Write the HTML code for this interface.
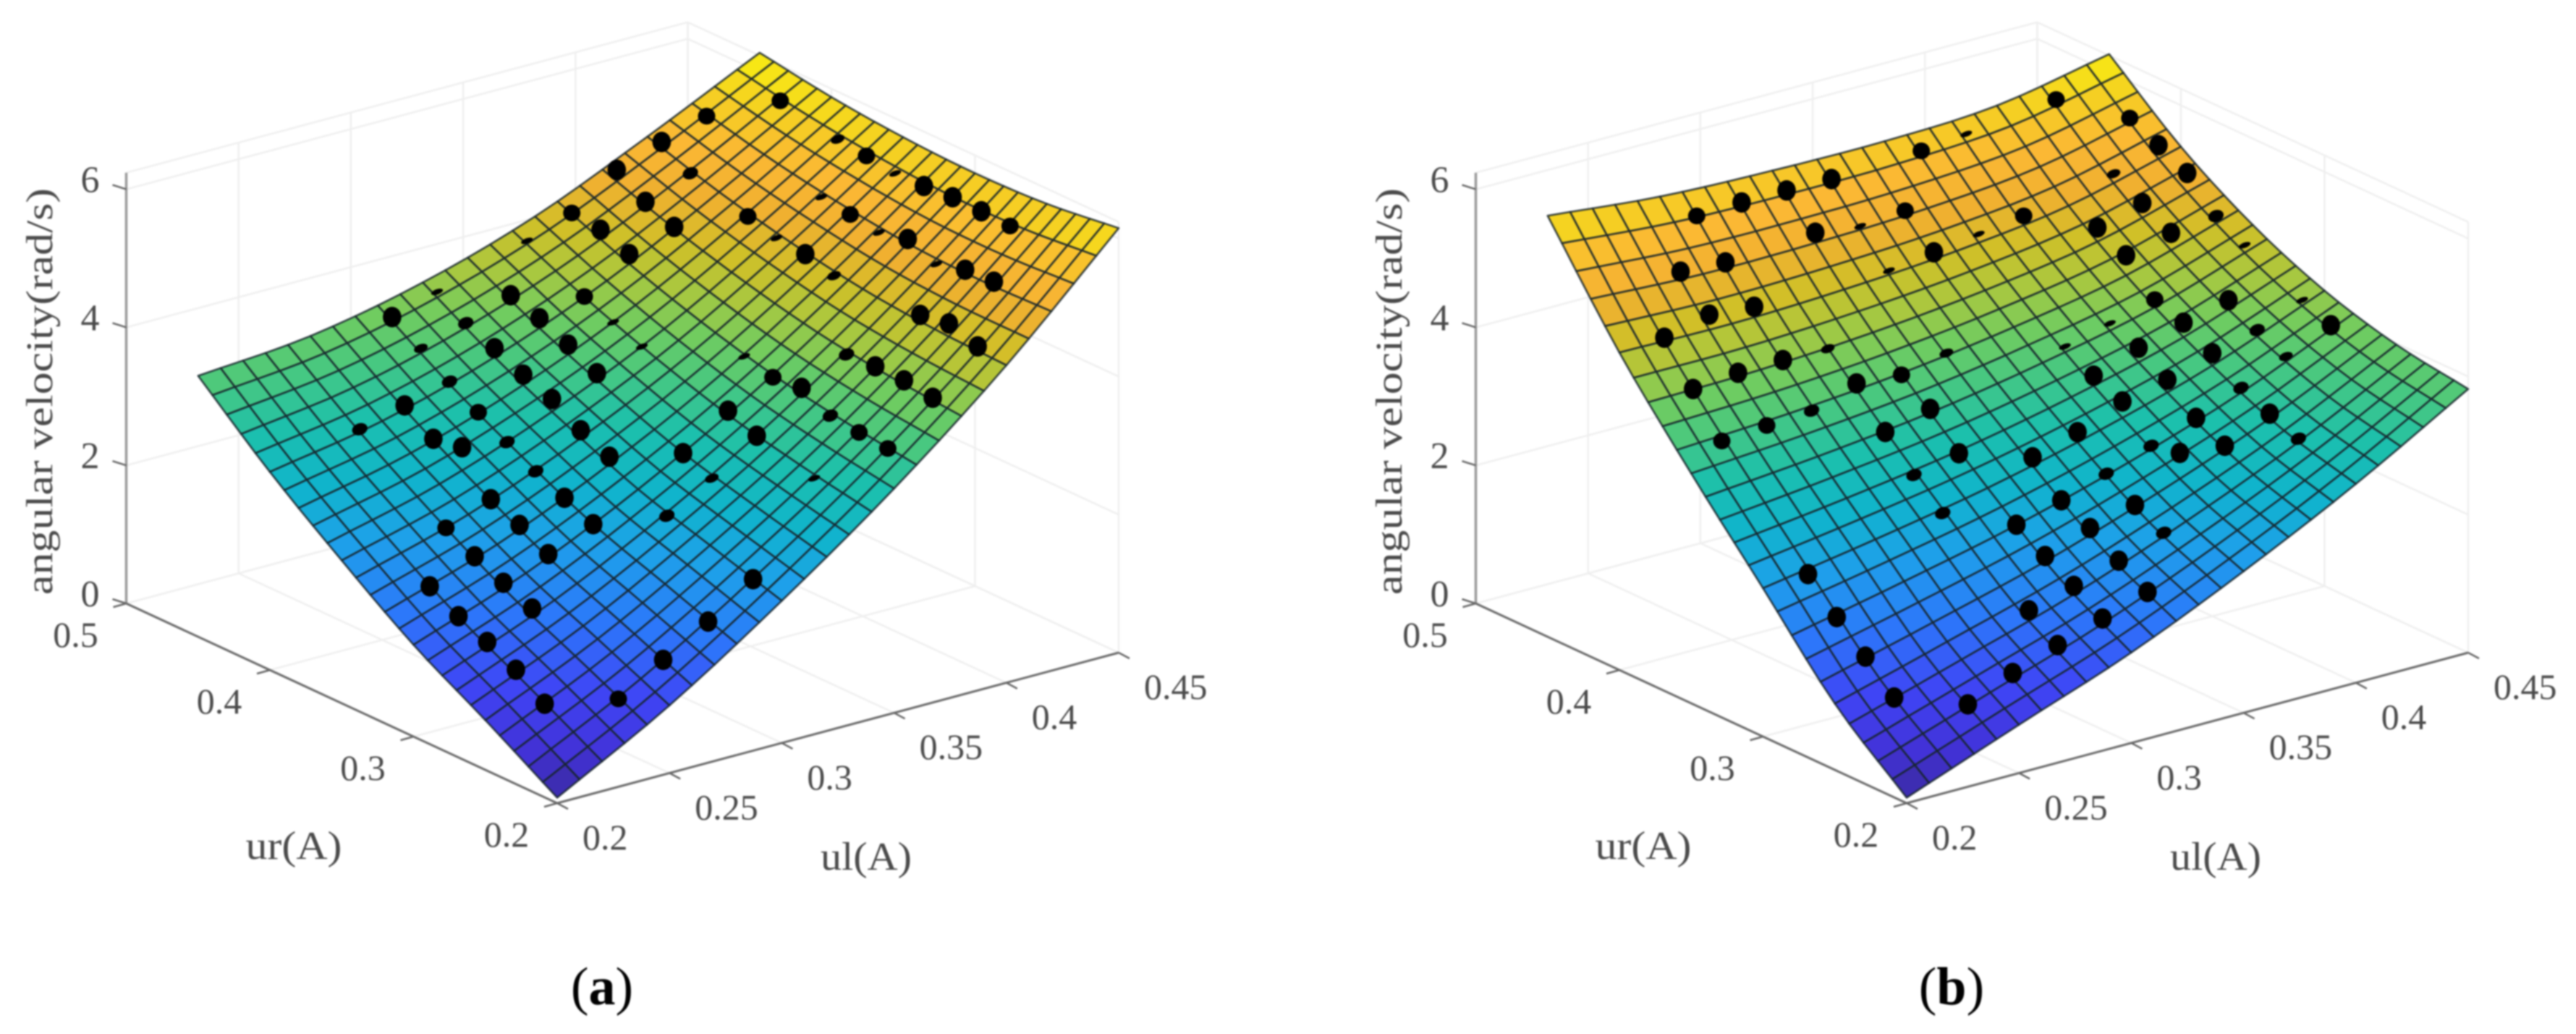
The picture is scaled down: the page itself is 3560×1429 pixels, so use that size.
<!DOCTYPE html>
<html lang="en">
<head>
<meta charset="utf-8">
<title>Angular velocity surface fits</title>
<style>
html,body{margin:0;padding:0;background:#fff;width:3560px;height:1429px;overflow:hidden}
svg{display:block;filter:blur(1.1px)}
text{font-family:"Liberation Serif",serif;fill:#4a4a4a}
</style>
</head>
<body>
<svg id="figure" width="3560" height="1429" viewBox="0 0 3560 1429" xmlns="http://www.w3.org/2000/svg">
  <rect x="0" y="0" width="3560" height="1429" fill="#fff"/>
  <g id="panel-a"></g>
  <g id="panel-b"></g>
  <text x="832" y="1388" text-anchor="middle" font-size="74" style="fill:#000">(<tspan font-weight="bold">a</tspan>)</text>
  <text x="2697" y="1388" text-anchor="middle" font-size="74" style="fill:#000">(<tspan font-weight="bold">b</tspan>)</text>
</svg>
<script>
// Axis ticks
const ulTicks = [0.2, 0.25, 0.3, 0.35, 0.4, 0.45];
const ulTickLabels = ['0.2', '0.25', '0.3', '0.35', '0.4', '0.45'];
const urTicks = [0.2, 0.3, 0.4, 0.5];
const urTickLabels = ['0.2', '0.3', '0.4', '0.5'];
const zTicks = [0, 2, 4, 6];
const zTickLabels = ['0', '2', '4', '6'];

// Fitted surface heights: rows run along ur, columns along ul
const surfaceUl = [0.2, 0.25, 0.3, 0.35, 0.4, 0.45];
const surfaceUr = [0.2, 0.25, 0.3, 0.35, 0.4, 0.45];
const panelASurfaceZ = [
  [0.08, 0.98, 2.06, 3.25, 4.60, 6.15],
  [0.72, 1.46, 2.38, 3.42, 4.64, 6.02],
  [1.33, 1.93, 2.71, 3.64, 4.74, 5.98],
  [2.07, 2.52, 3.16, 3.95, 4.93, 6.02],
  [2.87, 3.17, 3.66, 4.33, 5.18, 6.12],
  [3.78, 3.92, 4.26, 4.78, 5.50, 6.28]
];
const panelBSurfaceZ = [
  [0.08, 0.70, 1.31, 2.05, 2.88, 3.82],
  [0.96, 1.42, 1.90, 2.49, 3.17, 3.98],
  [2.15, 2.42, 2.73, 3.13, 3.63, 4.28],
  [3.33, 3.45, 3.62, 3.88, 4.22, 4.75],
  [4.60, 4.58, 4.64, 4.76, 4.98, 5.40],
  [6.10, 5.94, 5.88, 5.87, 5.95, 6.26]
];

// Measured points, panel (a)
const panelAUl = [
  .22,.22,.22,.22,.22,
  .24,.24,.24,.24,.24,.24,
  .26,.26,.26,.26,.26,.26,.26,
  .28,.28,.28,.28,.28,.28,.28,.28,.28,
  .30,.30,.30,.30,.30,.30,.30,.30,.30,
  .32,.32,.32,.32,.32,.32,
  .34,.34,.34,.34,.34,.34,.34,
  .36,.36,.36,.36,.36,.36,.36,.36,.36,
  .38,.38,.38,.38,.38,.38,.38,
  .40,.40,.40,.40,.40,.40,.40,.40,.40,
  .42,.42,.42,.42,.42,.42,.42,.42,
  .44,.44,.44,.44,.44,.44,.44,.44
];
const panelAUr = [
  .24,.26,.28,.30,.32,
  .22,.28,.30,.32,.34,.40,
  .22,.30,.32,.34,.36,.38,.40,
  .22,.30,.32,.34,.36,.38,.40,.42,.44,
  .22,.28,.32,.34,.36,.38,.40,.42,.44,
  .28,.30,.36,.38,.40,.42,
  .24,.28,.30,.36,.38,.40,.44,
  .22,.24,.26,.28,.30,.32,.40,.42,.44,
  .22,.24,.26,.28,.40,.42,.44,
  .22,.24,.26,.32,.34,.36,.38,.42,.44,
  .24,.26,.28,.30,.32,.34,.36,.44,
  .26,.28,.30,.32,.34,.36,.38,.42
];
const panelAZ = [
  .88,1.18,1.39,1.57,1.81,
  .97,1.70,1.88,2.07,2.29,3.14,
  1.36,2.12,2.35,2.53,3.09,3.02,3.31,
  1.74,2.38,2.57,2.76,2.99,3.23,3.48,3.77,4.03,
  2.18,2.52,2.99,3.18,3.44,3.60,3.79,3.96,4.22,
  2.89,3.06,3.64,3.86,4.05,4.19,
  3.10,3.33,3.50,3.85,4.01,4.19,4.61,
  3.55,3.59,3.64,3.85,3.81,3.92,4.63,4.79,4.84,
  4.11,4.17,4.18,4.16,4.85,5.02,5.29,
  4.68,4.82,4.75,4.74,4.86,4.90,5.02,5.26,5.52,
  5.25,5.23,5.12,5.29,5.19,5.26,5.32,5.72,
  5.69,5.71,5.72,5.69,5.68,5.74,5.79,5.96
];
// Height of each point above the fitted surface (rad/s)
const panelAGap = [
  .3,.3,.3,.3,.3,
  .2,.3,.3,.3,.2,.1,
  .3,.3,.3,.3,.3,.3,.3,
  .3,.3,.3,.1,.1,.2,.1,.05,.3,
  .3,.1,.3,.3,.3,.3,.3,.1,.02,
  .05,.3,.3,.3,.3,.3,
  .02,.3,.3,.02,.02,.2,.02,
  .2,.2,.1,.3,.2,.02,.3,.3,.2,
  .3,.3,.3,.1,.3,.3,.3,
  .3,.3,.3,.05,.3,.02,.2,.1,.3,
  .3,.3,.02,.3,.02,.2,.02,.2,
  .2,.3,.3,.3,.02,.2,.05,.2
];

// Measured points, panel (b)
const panelBUl = [
  .22,.22,.22,.22,.22,.22,.22,
  .24,.24,.24,.24,.24,
  .26,.26,.26,.26,.26,.26,
  .28,.28,.28,.28,.28,.28,.28,.28,
  .30,.30,.30,.30,.30,.30,.30,.30,.30,
  .32,.32,.32,.32,.32,.32,.32,.32,.32,
  .34,.34,.34,.34,.34,.34,
  .36,.36,.36,.36,.36,.36,.36,
  .38,.38,.38,.38,.38,.38,.38,
  .40,.40,.40,.40,.40,.40,.40,.40,
  .42,.42,.42,.42,.42,.42,.42,
  .44,.44,.44,.44,.44,.44,.44
];
const panelBUr = [
  .24,.26,.28,.30,.36,.38,.40,
  .22,.36,.38,.40,.42,
  .22,.36,.38,.40,.42,.44,
  .22,.24,.30,.32,.34,.36,.38,.44,
  .22,.24,.26,.28,.32,.34,.36,.42,.44,
  .22,.24,.26,.28,.30,.36,.40,.42,.44,
  .24,.26,.28,.30,.40,.42,
  .26,.28,.30,.32,.34,.40,.44,
  .26,.28,.30,.32,.34,.40,.44,
  .24,.26,.28,.30,.32,.34,.36,.38,
  .28,.30,.32,.36,.38,.40,.44,
  .28,.30,.34,.36,.38,.40,.42
];
const panelBZ = [
  .97,1.37,1.75,2.18,3.53,4.09,4.64,
  .89,3.58,4.15,4.80,5.23,
  1.17,3.62,4.16,4.74,5.19,5.67,
  1.40,1.71,2.54,2.90,3.33,3.84,4.15,5.69,
  1.61,1.89,2.13,2.39,3.04,3.49,3.79,5.27,5.69,
  1.82,2.08,2.36,2.57,3.00,3.93,4.74,5.19,5.68,
  2.31,2.52,2.78,3.19,4.83,5.24,
  3.10,3.01,3.46,3.64,3.87,4.92,5.74,
  3.03,3.24,3.60,3.87,4.03,5.01,5.81,
  3.15,3.32,3.50,3.81,4.06,4.20,4.65,4.86,
  3.78,3.97,4.21,4.80,5.04,5.27,5.96,
  4.06,4.23,4.64,4.87,5.30,5.51,5.71
];
const panelBGap = [
  .3,.3,.3,.3,.2,.3,.3,
  .3,.2,.3,.3,.3,
  .3,.1,.3,.3,.3,.2,
  .3,.3,.1,.1,.3,.3,.05,.3,
  .3,.3,.3,.3,.3,.3,.2,.3,.3,
  .3,.3,.3,.3,.3,.05,.02,.02,.3,
  .1,.3,.1,.3,.3,.2,
  .3,.1,.3,.3,.02,.02,.2,
  .3,.3,.3,.3,.02,.2,.02,
  .1,.3,.1,.3,.3,.2,.3,.3,
  .05,.1,.3,.3,.3,.05,.2,
  .3,.02,.02,.1,.3,.3,.2
];

// Colormap
const colorZ = [0.08, 0.5, 1.0, 1.6, 2.2, 2.7, 3.2, 3.65, 4.0, 4.35, 4.7, 5.1, 5.5, 5.9, 6.3];
const colorHex = ['#3a2a9e','#4232d8','#3f45f5','#2c78fa','#1ea0ea','#10b4cc','#1cc0ac','#48c880','#70cc60','#a8c840','#d0c028','#f0b030','#fbb834','#f5d022','#f8f010'];

const NS = 'http://www.w3.org/2000/svg';
const Z_TOP = 6.24;
const CELLS = 25;

function project(dx, ul, ur, z) {
  return [
    dx + 770 + 3104 * (ul - 0.2) - 1985 * (ur - 0.2),
    1110 - 832 * (ul - 0.2) - 920 * (ur - 0.2) - 95.4 * z
  ];
}

function hexToRgb(h) {
  return [parseInt(h.slice(1, 3), 16), parseInt(h.slice(3, 5), 16), parseInt(h.slice(5, 7), 16)];
}

function colorFor(z) {
  if (z <= colorZ[0]) return colorHex[0];
  for (let i = 1; i < colorZ.length; i++) {
    if (z <= colorZ[i]) {
      const t = (z - colorZ[i - 1]) / (colorZ[i] - colorZ[i - 1]);
      const a = hexToRgb(colorHex[i - 1]);
      const b = hexToRgb(colorHex[i]);
      const c = a.map((v, k) => Math.round(v + (b[k] - v) * t));
      return 'rgb(' + c.join(',') + ')';
    }
  }
  return colorHex[colorHex.length - 1];
}

function catmull(p0, p1, p2, p3, t) {
  return 0.5 * (2 * p1 + (p2 - p0) * t + (2 * p0 - 5 * p1 + 4 * p2 - p3) * t * t + (3 * p1 - p0 - 3 * p2 + p3) * t * t * t);
}

function pick(list, i) {
  if (i < 0) return 2 * list[0] - list[1];
  if (i >= list.length) return 2 * list[list.length - 1] - list[list.length - 2];
  return list[i];
}

function interp(list, pos) {
  const i = Math.min(Math.floor(pos), list.length - 2);
  return catmull(pick(list, i - 1), pick(list, i), pick(list, i + 1), pick(list, i + 2), pos - i);
}

function surfaceAt(table, ul, ur) {
  const pu = (ul - surfaceUl[0]) / (surfaceUl[1] - surfaceUl[0]);
  const pv = (ur - surfaceUr[0]) / (surfaceUr[1] - surfaceUr[0]);
  const col = table.map(row => interp(row, pu));
  return interp(col, pv);
}

function line(group, dx, a, b, stroke, width) {
  const el = document.createElementNS(NS, 'line');
  const p = project(dx, a[0], a[1], a[2]);
  const q = project(dx, b[0], b[1], b[2]);
  el.setAttribute('x1', p[0].toFixed(1));
  el.setAttribute('y1', p[1].toFixed(1));
  el.setAttribute('x2', q[0].toFixed(1));
  el.setAttribute('y2', q[1].toFixed(1));
  el.setAttribute('stroke', stroke);
  el.setAttribute('stroke-width', width);
  group.appendChild(el);
  return el;
}

function label(group, x, y, str, size, anchor) {
  const el = document.createElementNS(NS, 'text');
  el.setAttribute('x', x.toFixed(1));
  el.setAttribute('y', y.toFixed(1));
  el.setAttribute('font-size', size);
  el.setAttribute('text-anchor', anchor);
  el.textContent = str;
  group.appendChild(el);
  return el;
}

function drawPanel(group, dx, table, ptUl, ptUr, ptZ, ptGap) {
  const URMAX = urTicks[urTicks.length - 1];
  const ULMIN = ulTicks[0];
  const ULMAX = ulTicks[ulTicks.length - 1];
  const URMIN = urTicks[0];
  const GRID = '#efefef';

  // Gridlines on the walls and floor
  ulTicks.forEach(v => {
    let el = line(group, dx, [v, URMAX, 0], [v, URMAX, Z_TOP], GRID, 2.5);
    
    
    el = line(group, dx, [v, URMIN, 0], [v, URMAX, 0], GRID, 2.5);
    
    
  });
  urTicks.forEach(v => {
    let el = line(group, dx, [ULMAX, v, 0], [ULMAX, v, Z_TOP], GRID, 2.5);
    
    
    el = line(group, dx, [ULMIN, v, 0], [ULMAX, v, 0], GRID, 2.5);
    
    
  });
  zTicks.concat([Z_TOP]).forEach(v => {
    let el = line(group, dx, [ULMIN, URMAX, v], [ULMAX, URMAX, v], GRID, 2.5);
    
    
    el = line(group, dx, [ULMAX, URMIN, v], [ULMAX, URMAX, v], GRID, 2.5);
    
    
  });

  // Axis lines
  let ax = line(group, dx, [ULMIN, URMAX, 0], [ULMIN, URMAX, Z_TOP], '#9a9a9a', 3.5);
  
  
  ax = line(group, dx, [ULMIN, URMIN, 0], [ULMIN, URMAX, 0], '#6a6a6a', 3);
  
  
  ax = line(group, dx, [ULMIN, URMIN, 0], [ULMAX, URMIN, 0], '#6a6a6a', 3);
  
  

  // Ticks and tick labels
  zTicks.forEach((v, k) => {
    const p = project(dx, ULMIN, URMAX, v);
    const t = document.createElementNS(NS, 'path');
    t.setAttribute('d', 'M' + p[0] + ' ' + p[1] + 'l-19 -6');
    t.setAttribute('stroke', '#666');
    t.setAttribute('stroke-width', 2.5);
    t.setAttribute('fill', 'none');
    
    
    group.appendChild(t);
    const el = label(group, p[0] - 50, p[1] + 4, zTickLabels[k], 52, 'middle');
    
    
  });
  urTicks.forEach((v, k) => {
    const p = project(dx, ULMIN, v, 0);
    const t = document.createElementNS(NS, 'path');
    t.setAttribute('d', 'M' + p[0] + ' ' + p[1] + 'l-18 5');
    t.setAttribute('stroke', '#666');
    t.setAttribute('stroke-width', 2.5);
    t.setAttribute('fill', 'none');
    
    
    group.appendChild(t);
    const el = label(group, p[0] - 70, p[1] + 60, urTickLabels[k], 50, 'middle');
    
    
  });
  ulTicks.forEach((v, k) => {
    const p = project(dx, v, URMIN, 0);
    const t = document.createElementNS(NS, 'path');
    t.setAttribute('d', 'M' + p[0] + ' ' + p[1] + 'l15 8');
    t.setAttribute('stroke', '#666');
    t.setAttribute('stroke-width', 2.5);
    t.setAttribute('fill', 'none');
    
    
    group.appendChild(t);
    const el = label(group, p[0] + 35, p[1] + 64, ulTickLabels[k], 50, 'start');
    
    
  });

  // Axis titles
  let title = label(group, dx + 406, 1187, 'ur(A)', 55, 'middle');
  
  
  title.setAttribute('textLength', '133');
  title.setAttribute('lengthAdjust', 'spacingAndGlyphs');
  title = label(group, dx + 1197, 1202, 'ul(A)', 55, 'middle');
  
  
  title.setAttribute('textLength', '126');
  title.setAttribute('lengthAdjust', 'spacingAndGlyphs');
  title = label(group, 0, 0, 'angular velocity(rad/s)', 52, 'middle');
  
  
  title.setAttribute('textLength', '562');
  title.setAttribute('lengthAdjust', 'spacingAndGlyphs');
  title.setAttribute('transform', 'translate(' + (dx + 72) + ' 541) rotate(-90)');

  // Surface mesh, back to front
  const step = (ULMAX - ULMIN) / CELLS;
  const heights = [];
  for (let a = 0; a <= CELLS; a++) {
    heights.push([]);
    for (let b = 0; b <= CELLS; b++) {
      heights[a].push(surfaceAt(table, ULMIN + a * step, URMIN + b * step));
    }
  }
  const surf = document.createElementNS(NS, 'g');
  
  
  group.appendChild(surf);
  for (let a = CELLS - 1; a >= 0; a--) {
    for (let b = CELLS - 1; b >= 0; b--) {
      const corners = [[a, b], [a + 1, b], [a + 1, b + 1], [a, b + 1]];
      const pts = corners.map(c => project(dx, ULMIN + c[0] * step, URMIN + c[1] * step, heights[c[0]][c[1]]));
      const mean = corners.reduce((s, c) => s + heights[c[0]][c[1]], 0) / 4;
      const poly = document.createElementNS(NS, 'polygon');
      poly.setAttribute('points', pts.map(p => p[0].toFixed(1) + ',' + p[1].toFixed(1)).join(' '));
      poly.setAttribute('fill', colorFor(mean));
      poly.setAttribute('stroke', '#16242c');
      poly.setAttribute('stroke-opacity', '0.85');
      poly.setAttribute('stroke-width', '2.6');
      poly.setAttribute('stroke-linejoin', 'round');
      
      
      surf.appendChild(poly);
    }
  }

  // Measured points: the part above the surface is what stays visible
  ptUl.forEach((v, k) => {
    const p = project(dx, v, ptUr[k], ptZ[k]);
    const s = Math.min(1, ptGap[k] / 0.3);
    const dot = document.createElementNS(NS, 'ellipse');
    dot.setAttribute('cx', p[0].toFixed(1));
    dot.setAttribute('cy', p[1].toFixed(1));
    dot.setAttribute('rx', (12.8 * Math.pow(s, 0.15)).toFixed(1));
    dot.setAttribute('ry', (14.2 * Math.sqrt(s)).toFixed(1));
    dot.setAttribute('fill', '#000');
    if (s < 0.5) {
      dot.setAttribute('transform', 'rotate(-20 ' + p[0].toFixed(1) + ' ' + p[1].toFixed(1) + ')');
    }
    
    
    group.appendChild(dot);
  });
}

drawPanel(document.getElementById('panel-a'), 0, panelASurfaceZ, panelAUl, panelAUr, panelAZ, panelAGap);
drawPanel(document.getElementById('panel-b'), 1865, panelBSurfaceZ, panelBUl, panelBUr, panelBZ, panelBGap);
</script>
</body>
</html>
